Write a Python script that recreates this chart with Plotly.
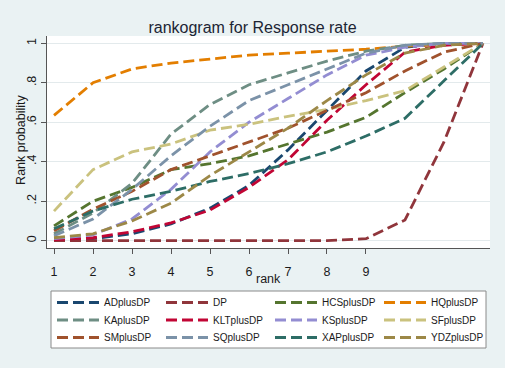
import plotly.graph_objects as go

ranks = list(range(1, 13))

series_names = ["ADplusDP", "DP", "HCSplusDP", "HQplusDP",
                "KAplusDP", "KLTplusDP", "KSplusDP", "SFplusDP",
                "SMplusDP", "SQplusDP", "XAPplusDP", "YDZplusDP"]

AD = [0.005, 0.01, 0.035, 0.085, 0.165, 0.28, 0.46, 0.66, 0.86, 0.98, 1.0, 1.0]
DP = [0.0, 0.0, 0.0, 0.0, 0.0, 0.0, 0.0, 0.0, 0.01, 0.105, 0.50, 1.0]
HCS = [0.075, 0.20, 0.27, 0.36, 0.39, 0.43, 0.49, 0.55, 0.625, 0.75, 0.87, 1.0]
HQ = [0.635, 0.80, 0.87, 0.90, 0.92, 0.94, 0.95, 0.96, 0.97, 0.985, 0.995, 1.0]
KA = [0.035, 0.14, 0.29, 0.54, 0.69, 0.79, 0.85, 0.91, 0.96, 0.99, 1.0, 1.0]
KLT = [0.005, 0.015, 0.045, 0.09, 0.155, 0.27, 0.41, 0.61, 0.79, 0.955, 0.99, 1.0]
KS = [0.01, 0.03, 0.11, 0.26, 0.45, 0.60, 0.72, 0.84, 0.94, 0.98, 1.0, 1.0]
SF = [0.15, 0.36, 0.45, 0.49, 0.56, 0.59, 0.63, 0.665, 0.71, 0.76, 0.88, 1.0]
SM = [0.05, 0.16, 0.25, 0.36, 0.43, 0.50, 0.57, 0.66, 0.75, 0.86, 0.955, 1.0]
SQ = [0.025, 0.11, 0.26, 0.43, 0.58, 0.71, 0.79, 0.87, 0.95, 0.99, 1.0, 1.0]
XAP = [0.06, 0.15, 0.21, 0.25, 0.30, 0.34, 0.39, 0.45, 0.53, 0.62, 0.81, 1.0]
YDZ = [0.015, 0.035, 0.10, 0.19, 0.33, 0.45, 0.57, 0.71, 0.84, 0.95, 0.99, 1.0]

series_values = [AD, DP, HCS, HQ, KA, KLT, KS, SF, SM, SQ, XAP, YDZ]

colors = ["#1A476F", "#90353B", "#55752F", "#E37E00",
          "#6E8E84", "#C10534", "#938DD2", "#CAC27E",
          "#A0522D", "#7B92A8", "#2D6D66", "#9C8847"]

x_tick_vals = [1, 2, 3, 4, 5, 6, 7, 8, 9]
x_tick_text = ["1", "2", "3", "4", "5", "6", "7", "8", "9"]
y_tick_vals = [0, 0.2, 0.4, 0.6, 0.8, 1.0]
y_tick_text = ["0", ".2", ".4", ".6", ".8", "1"]

FONT = "Liberation Sans, Arial, sans-serif"
BG = "#EAF2F3"
AXC = "#555555"
TXT = "#1a1a1a"

W, H = 505, 368
ml, mr, mt, mb = 47, 15, 36, 120
pw, ph = W - ml - mr, H - mt - mb


def px_to_paper_x(px):
    return (px - ml) / pw


def px_to_paper_y(py):
    return (H - mb - py) / ph


legend_ids = ["legend", "legend2", "legend3"]
row_centers = [302.5, 320, 337.5]

fig = go.Figure()
for i, (name, vals, col) in enumerate(zip(series_names, series_values, colors)):
    fig.add_trace(go.Scatter(
        x=ranks, y=vals, name=name, mode="lines",
        line=dict(color=col, width=2.8, dash="11px,5px"),
        legend=legend_ids[i // 4],
    ))

legend_common = dict(orientation="h", xref="container", yref="container",
                     xanchor="left", yanchor="middle",
                     bgcolor="rgba(0,0,0,0)", borderwidth=0,
                     font=dict(size=10, color=TXT, family=FONT),
                     itemwidth=42, entrywidth=52, entrywidthmode="pixels",
                     traceorder="normal")
legends = {}
for lid, yc in zip(legend_ids, row_centers):
    legends[lid] = dict(legend_common, x=52 / W, y=1 - yc / H)

fig.update_layout(
    width=W, height=H,
    paper_bgcolor=BG, plot_bgcolor="white",
    margin=dict(l=ml, r=mr, t=mt, b=mb, autoexpand=False),
    font=dict(family=FONT, color=TXT, size=12.5),
    title=dict(text="rankogram for Response rate", x=0.5, xref="container",
               y=1 - 27 / H, yref="container", xanchor="center", yanchor="middle",
               font=dict(size=16, color="#1c2533", family=FONT)),
    xaxis=dict(range=[0.82, 12.18], tickvals=x_tick_vals, ticktext=x_tick_text,
               showgrid=False, zeroline=False, showline=True, linecolor=AXC, linewidth=1,
               ticks="outside", ticklen=5, tickcolor=AXC, ticklabelstandoff=7,
               tickfont=dict(size=12.5, color=TXT)),
    yaxis=dict(range=[-0.037, 1.037], tickvals=y_tick_vals, ticktext=y_tick_text,
               tickangle=-90, showgrid=True, gridcolor="#E3EAEC", gridwidth=1,
               zeroline=False, showline=True, linecolor=AXC, linewidth=1,
               ticks="outside", ticklen=5, tickcolor=AXC, ticklabelstandoff=0,
               tickfont=dict(size=12.5, color=TXT)),
    annotations=[
        dict(text="Rank probability", textangle=-90,
             xref="paper", yref="paper", x=px_to_paper_x(21), y=0.51,
             xanchor="center", yanchor="middle", showarrow=False,
             font=dict(size=12.5, color=TXT, family=FONT)),
        dict(text="rank", xref="paper", yref="paper",
             x=px_to_paper_x(268.5), y=px_to_paper_y(279),
             xanchor="center", yanchor="middle", showarrow=False,
             font=dict(size=12.5, color=TXT, family=FONT)),
    ],
    shapes=[dict(type="rect", xref="paper", yref="paper",
                 x0=px_to_paper_x(51), x1=px_to_paper_x(486),
                 y0=px_to_paper_y(348), y1=px_to_paper_y(291),
                 line=dict(color="#8a8a8a", width=1), fillcolor="white",
                 layer="below")],
    showlegend=True,
    **legends,
)

fig.write_html("out.html", config={"displayModeBar": False},
               post_script="document.body.style.margin='0px';")
